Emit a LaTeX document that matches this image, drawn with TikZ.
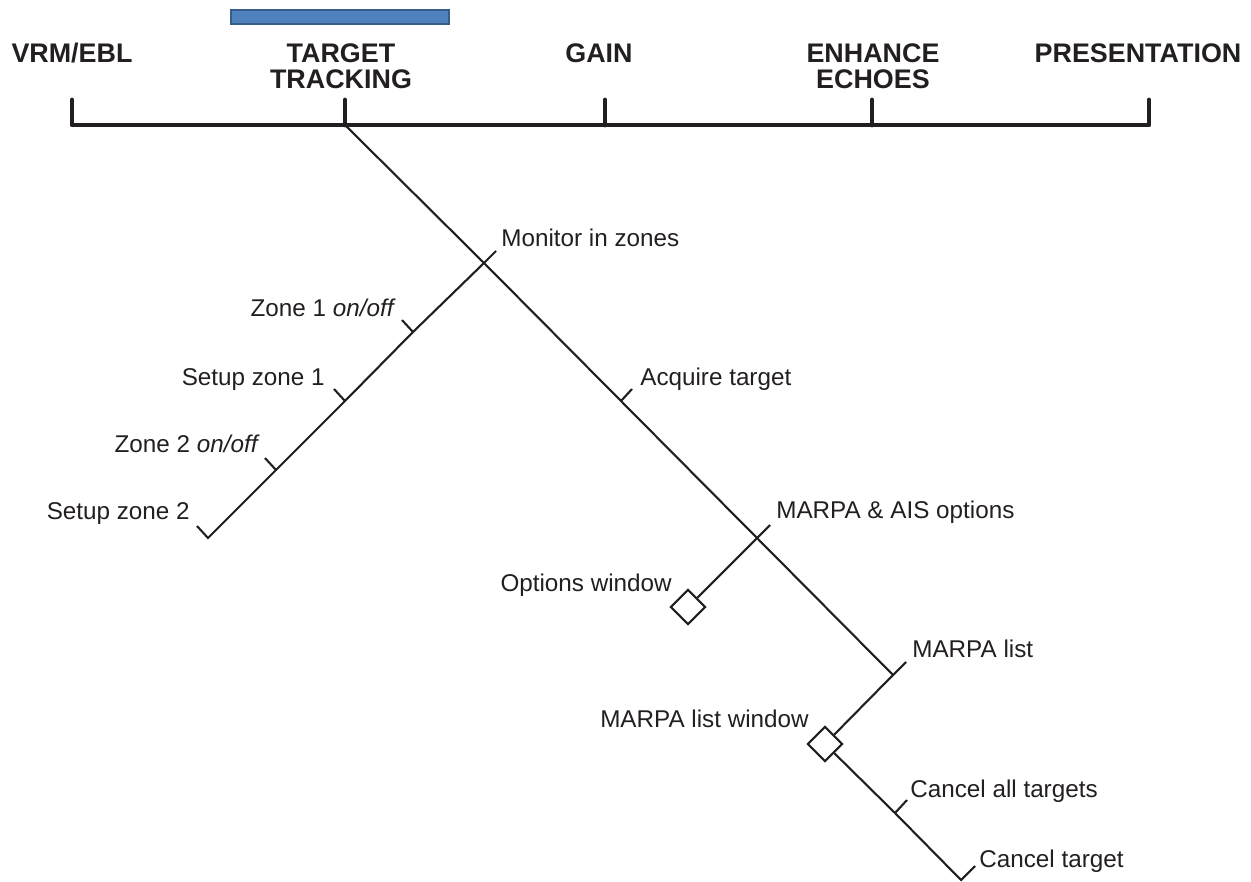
\documentclass[tikz,border=0pt]{standalone}
\usepackage{fontspec}
\setmainfont{Liberation Sans}
\usetikzlibrary{shapes.geometric}
\definecolor{ink}{RGB}{35,31,32}
\definecolor{tabblue}{RGB}{79,129,189}
\definecolor{tabedge}{RGB}{56,93,138}

\tikzset{
  hdr/.style={font=\bfseries\fontsize{15.3}{14.8}\selectfont, text=ink, align=center, inner sep=0pt, anchor=north},
  lbl/.style={font=\fontsize{13.8}{16}\selectfont, text=ink, inner sep=0pt},
  bar/.style={draw=ink, line width=2.8pt, line cap=round, line join=round},
  branch/.style={draw=ink, line width=1.2pt},
  win/.style={diamond, draw=ink, line width=1.2pt, inner sep=0pt, minimum width=0.7cm, minimum height=0.7cm},
  selbox/.style={draw=tabedge, fill=tabblue, line width=0.6pt, inner sep=0pt, minimum width=4.36cm, minimum height=0.28cm}
}

\begin{document}
\begin{tikzpicture}[x=0.02cm,y=-0.02cm]
\useasboundingbox (0,0) rectangle (1251,882);

% menu bar
\node[selbox] (sel) at (340,17) {};
\node[hdr] (vrm) at (72,43) {VRM/EBL};
\node[hdr] (tt) at (341,43) {TARGET\\TRACKING};
\node[hdr] (gain) at (599,43) {GAIN};
\node[hdr] (enh) at (873,43) {ENHANCE\\ECHOES};
\node[hdr] (pres) at (1138,43) {PRESENTATION};

\foreach \x/\n in {72/vrm,345/tt,605/gain,872/enh,1149/pres}{
  \coordinate (\n-top) at (\x,100);
  \coordinate (\n-bar) at (\x,125);
}
\draw[bar] (vrm-top) -- (vrm-bar) -- (pres-bar) -- (pres-top);
\foreach \n in {tt,gain,enh}
  \draw[bar] (\n-top) -- (\n-bar);

% target tracking tree
\coordinate (mon) at (484,263);
\coordinate (monx) at (496,251);
\coordinate (acq) at (621,401);
\coordinate (acqt) at (632,389);
\coordinate (mais) at (757,538);
\coordinate (maisx) at (770,525);
\coordinate (mlist) at (893,675);
\coordinate (mlistx) at (906,662);

\coordinate (z1) at (413,332);
\coordinate (z1t) at (402,320);
\coordinate (s1) at (345,401);
\coordinate (s1t) at (334,389);
\coordinate (z2) at (276,470);
\coordinate (z2t) at (265,458);
\coordinate (s2) at (208,538);
\coordinate (s2t) at (197,526);

\node[win] (optwin) at (688,607) {};
\node[win] (lstwin) at (825,744) {};
\coordinate (cat) at (895,813);
\coordinate (catt) at (907,800);
\coordinate (ct) at (961,880);
\coordinate (ctt) at (975,866);

\draw[branch] (tt-bar) -- (mon) -- (acq) -- (mais) -- (mlist);
\draw[branch] (acq) -- (acqt);
\draw[branch] (monx) -- (mon) -- (z1) -- (s1) -- (z2) -- (s2) -- (s2t);
\draw[branch] (z1) -- (z1t);
\draw[branch] (s1) -- (s1t);
\draw[branch] (z2) -- (z2t);
\draw[branch] (maisx) -- (mais) -- (optwin);
\draw[branch] (mlistx) -- (mlist) -- (lstwin);
\draw[branch] (lstwin) -- (cat) -- (ct) -- (ctt);
\draw[branch] (cat) -- (catt);

% labels
\node[lbl, anchor=base west] (monlbl) at (501,246) {Monitor in zones};
\node[lbl, anchor=base east] (z1lbl) at (396,316) {Zone 1 \textit{on/off}};
\node[lbl, anchor=base east] (s1lbl) at (325,385) {Setup zone 1};
\node[lbl, anchor=base east] (z2lbl) at (260,452) {Zone 2 \textit{on/off}};
\node[lbl, anchor=base east] (s2lbl) at (190,519) {Setup zone 2};
\node[lbl, anchor=base west] (acqlbl) at (640,385) {Acquire target};
\node[lbl, anchor=base west] (maislbl) at (776,518) {MARPA \& AIS options};
\node[lbl, anchor=base east] (optlbl) at (672,591) {Options window};
\node[lbl, anchor=base west] (mlistlbl) at (912,657) {MARPA list};
\node[lbl, anchor=base east] (lstlbl) at (809,727) {MARPA list window};
\node[lbl, anchor=base west] (catlbl) at (910,797) {Cancel all targets};
\node[lbl, anchor=base west] (ctlbl) at (979,867) {Cancel target};

\end{tikzpicture}
\end{document}
